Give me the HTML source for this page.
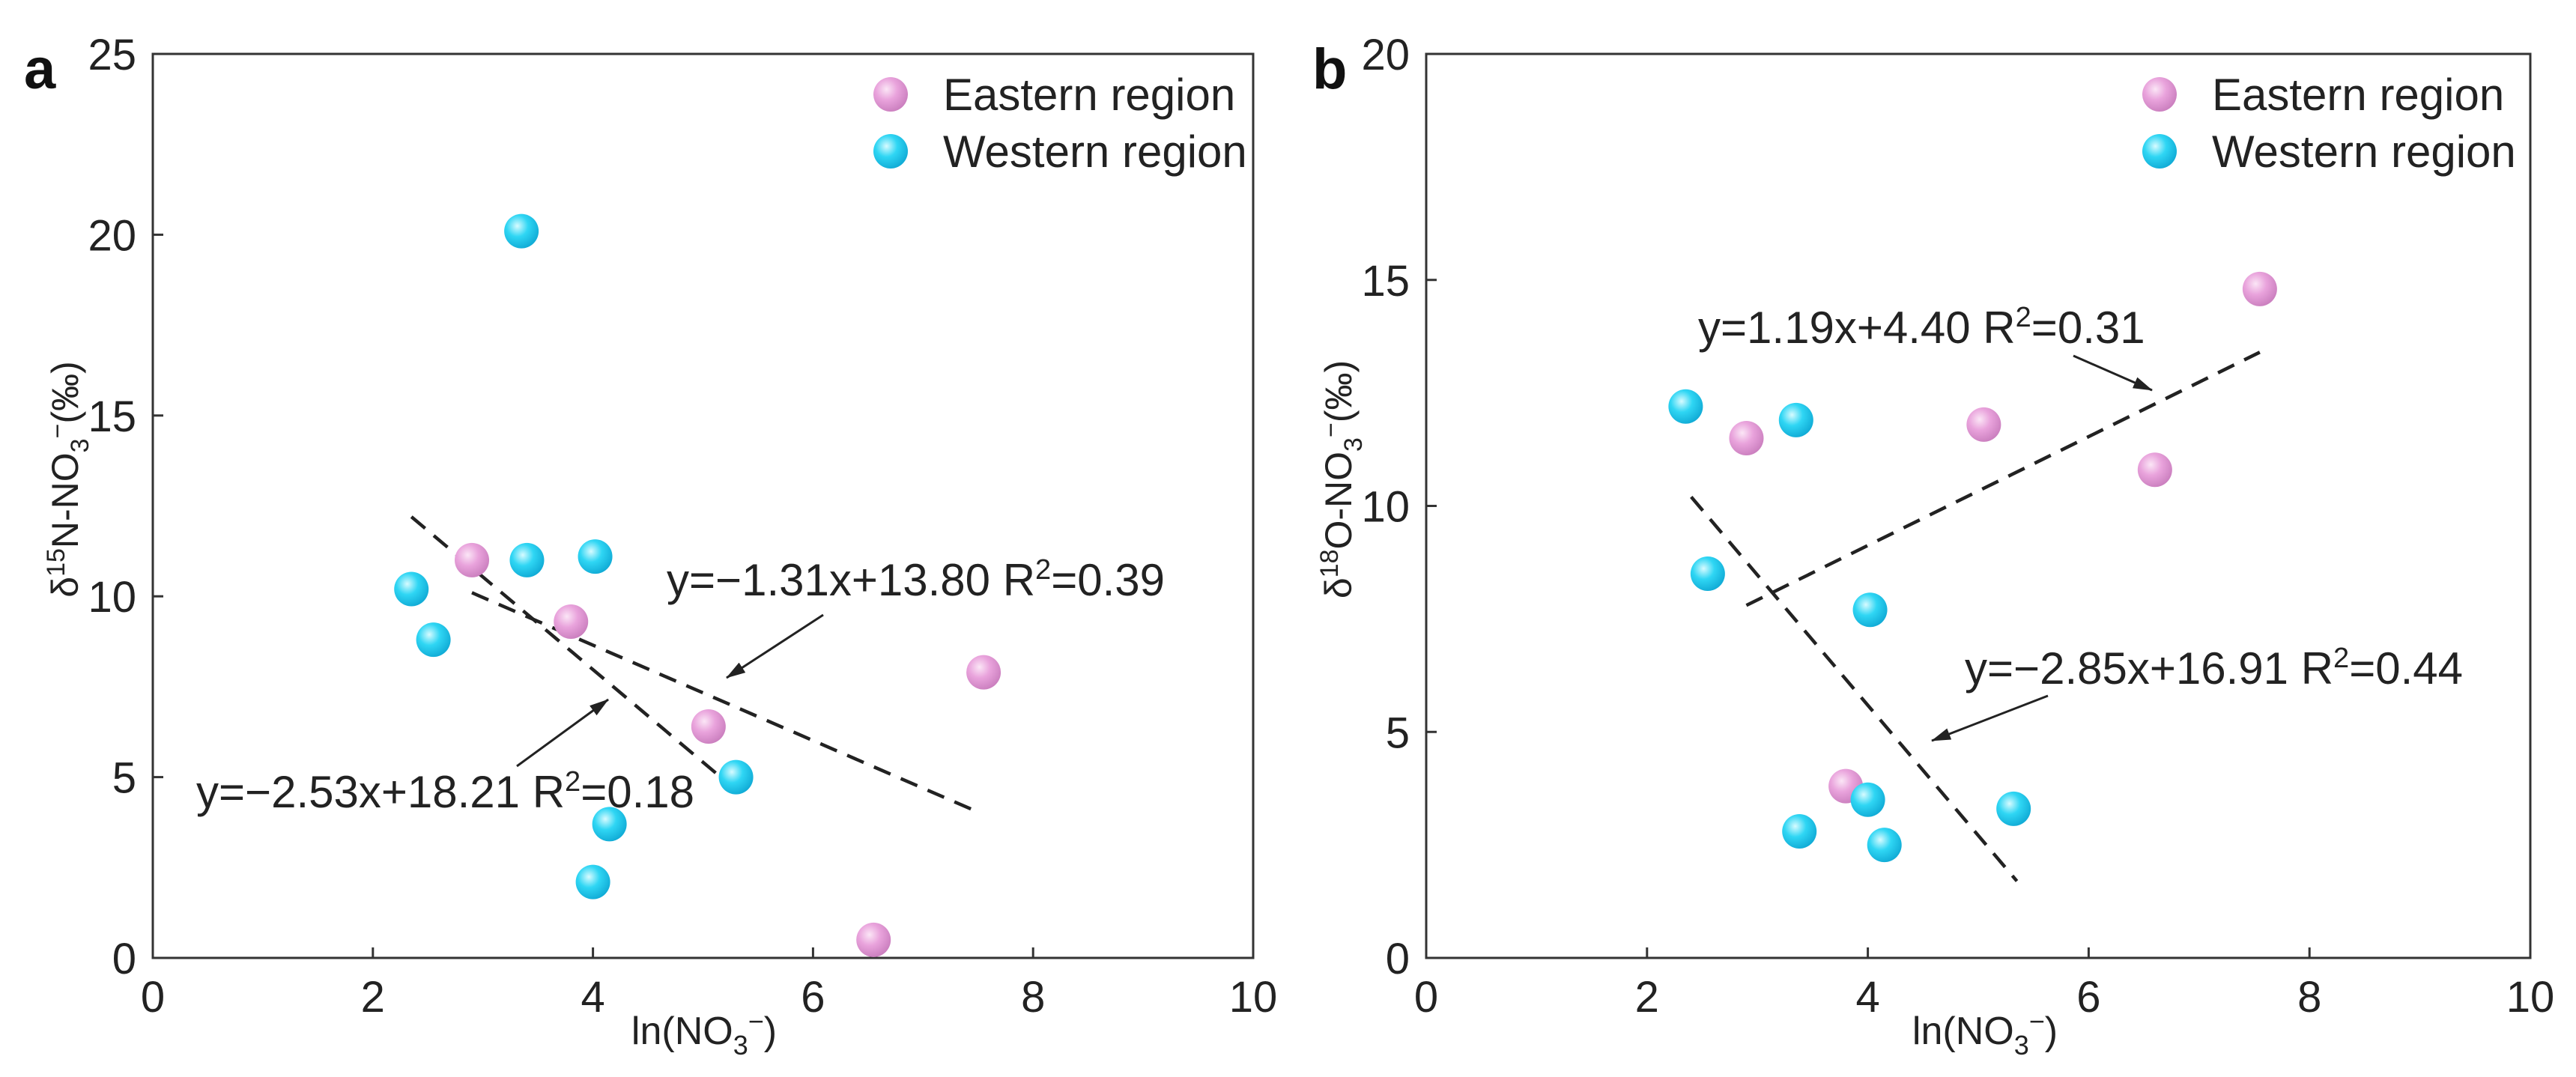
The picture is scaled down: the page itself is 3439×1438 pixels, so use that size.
<!DOCTYPE html>
<html><head><meta charset="utf-8"><style>
body{margin:0;background:#fff}
svg{display:block;font-family:"Liberation Sans",Arial,sans-serif}
</style></head><body>
<svg id="chart" width="3439" height="1438" viewBox="0 0 3439 1438" xmlns="http://www.w3.org/2000/svg">
<defs>
<radialGradient id="gp" cx="0.38" cy="0.35" r="0.7"><stop offset="0" stop-color="#fbe6f6"/><stop offset="0.45" stop-color="#e9a3dc"/><stop offset="1" stop-color="#c97dbd"/></radialGradient>
<radialGradient id="gc" cx="0.38" cy="0.35" r="0.7"><stop offset="0" stop-color="#d8fbff"/><stop offset="0.45" stop-color="#2fd6f4"/><stop offset="1" stop-color="#0fa9d4"/></radialGradient>
<marker id="ah" markerWidth="26" markerHeight="16" refX="25" refY="8" orient="auto" markerUnits="userSpaceOnUse" viewBox="0 0 26 16"><path d="M0,0 L26,8 L0,16 z" fill="#222"/></marker>
</defs>
<g id="pa"></g>
<g id="pb"></g>
</svg>
<script>
const xTicks = [0,2,4,6,8,10];
const yTicksA = [0,5,10,15,20,25];
const yTicksB = [0,5,10,15,20];
const eastXA = [2.9,3.8,5.05,6.55,7.55];
const eastYA = [11.0,9.3,6.4,0.5,7.9];
const westXA = [2.35,2.55,3.35,3.4,4.02,5.3,4.15,4.0];
const westYA = [10.2,8.8,20.1,11.0,11.1,5.0,3.7,2.1];
const eastXB = [2.9,3.8,5.05,6.6,7.55];
const eastYB = [11.5,3.8,11.8,10.8,14.8];
const westXB = [2.35,3.35,2.55,4.02,4.0,3.38,4.15,5.32];
const westYB = [12.2,11.9,8.5,7.7,3.5,2.8,2.5,3.3];
const fitLinesA = [[2.35,12.2,5.2,4.9],[2.9,10.1,7.45,4.1]];
const fitLinesB = [[2.9,7.8,7.55,13.4],[2.4,10.2,5.35,1.7]];

const NS='http://www.w3.org/2000/svg';
function mk(parent,tag,attrs,text){const e=document.createElementNS(NS,tag);for(const k in attrs)e.setAttribute(k,attrs[k]);if(text!==undefined)e.textContent=text;parent.appendChild(e);return e;}

function panel(g,cfg){
  const L=cfg.left,R=cfg.right,T=72,B=1279;
  const sx=v=>L+(v-0)/10*(R-L);
  const sy=v=>B-(v/cfg.ymax)*(B-T);
  const box=mk(g,'rect',{x:L,y:T,width:R-L,height:B-T,fill:'none',stroke:'#333','stroke-width':3});
  
  
  xTicks.forEach(t=>{
    const l=mk(g,'line',{x1:sx(t),x2:sx(t),y1:B,y2:B-14,stroke:'#333','stroke-width':3});
    
    
    const tx=mk(g,'text',{x:sx(t),y:B+72,'font-size':58,'text-anchor':'middle',fill:'#222'},String(t));
    
    
  });
  cfg.yTicks.forEach(t=>{
    const l=mk(g,'line',{x1:L,x2:L+14,y1:sy(t),y2:sy(t),stroke:'#333','stroke-width':3});
    
    
    const tx=mk(g,'text',{x:L-22,y:sy(t)+21,'font-size':58,'text-anchor':'end',fill:'#222'},String(t));
    
    
  });
  const xt=mk(g,'text',{x:cfg.xTitleX,y:1394,'font-size':52,'text-anchor':'middle',fill:'#222'});
  xt.innerHTML='ln(NO<tspan font-size="36" dy="14">3</tspan><tspan font-size="36" dy="-32">−</tspan><tspan dy="18">)</tspan>';
  
  
  const yt=mk(g,'text',{transform:`translate(${L-100},640) rotate(-90)`,'font-size':50,'text-anchor':'middle',fill:'#222'});
  yt.innerHTML='δ<tspan font-size="34" dy="-18">'+cfg.iso+'</tspan><tspan dy="18">'+cfg.el+'-NO</tspan><tspan font-size="34" dy="14">3</tspan><tspan font-size="34" dy="-30">−</tspan><tspan dy="16">(‰)</tspan>';
  
  
  const pl=mk(g,'text',{x:cfg.labelX,y:118,'font-size':76,'font-weight':'bold',fill:'#111'},cfg.label);
  
  
  cfg.lines.forEach(f=>{
    const l=mk(g,'line',{x1:sx(f[0]),y1:sy(f[1]),x2:sx(f[2]),y2:sy(f[3]),stroke:'#222','stroke-width':4.5,'stroke-dasharray':'24 15'});
    
    
  });
  cfg.annots.forEach(a=>{
    const t=mk(g,'text',{x:a.x,y:a.y,'font-size':60,fill:'#222'});
    t.innerHTML=a.pre+' R<tspan font-size="38" dy="-22">2</tspan><tspan dy="22">='+a.r+'</tspan>';
    
    
    const ar=mk(g,'line',{x1:a.ax1,y1:a.ay1,x2:a.ax2,y2:a.ay2,stroke:'#222','stroke-width':3,'marker-end':'url(#ah)'});
    
    
  });
  const dots=(xs,ys,fill,name)=>xs.forEach((x,i)=>{
    const c=mk(g,'circle',{cx:sx(x),cy:sy(ys[i]),r:23,fill:fill});
    
    
  });
  dots(cfg.ex,cfg.ey,'url(#gp)','eastern-point');
  dots(cfg.wx,cfg.wy,'url(#gc)','western-point');
  const lx=R-cfg.legOff;
  const m1=mk(g,'circle',{cx:lx,cy:126,r:23,fill:'url(#gp)'});
  
  
  const t1=mk(g,'text',{x:lx+70,y:147,'font-size':60,fill:'#222'},'Eastern region');
  
  
  const m2=mk(g,'circle',{cx:lx,cy:202,r:23,fill:'url(#gc)'});
  
  
  const t2=mk(g,'text',{x:lx+70,y:223,'font-size':60,fill:'#222'},'Western region');
  
  
}
panel(document.getElementById('pa'),{left:204,right:1673,ymax:25,yTicks:yTicksA,label:'a',labelX:32,legOff:484,iso:'15',el:'N',xTitleX:940,
  ex:eastXA,ey:eastYA,wx:westXA,wy:westYA,lines:fitLinesA,
  annots:[{x:890,y:795,pre:'y=−1.31x+13.80',r:'0.39',ax1:1099,ay1:821,ax2:970,ay2:905},
          {x:262,y:1078,pre:'y=−2.53x+18.21',r:'0.18',ax1:690,ay1:1023,ax2:812,ay2:934}]});
panel(document.getElementById('pb'),{left:1904,right:3378,ymax:20,yTicks:yTicksB,label:'b',labelX:1752,legOff:495,iso:'18',el:'O',xTitleX:2650,
  ex:eastXB,ey:eastYB,wx:westXB,wy:westYB,lines:fitLinesB,
  annots:[{x:2267,y:458,pre:'y=1.19x+4.40',r:'0.31',ax1:2768,ay1:475,ax2:2873,ay2:521},
          {x:2623,y:913,pre:'y=−2.85x+16.91',r:'0.44',ax1:2734,ay1:929,ax2:2579,ay2:989}]});
</script>
</body></html>
